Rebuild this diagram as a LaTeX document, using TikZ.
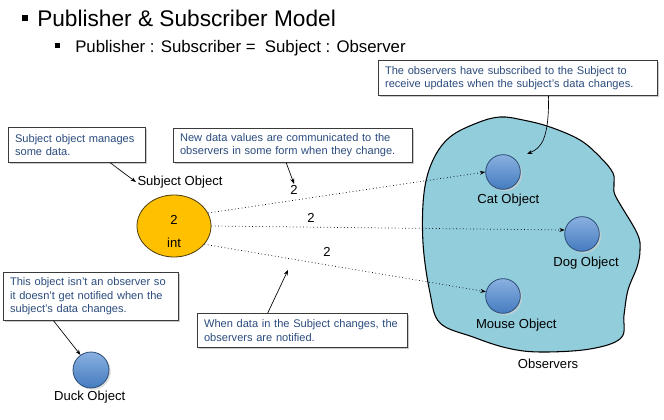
\documentclass[tikz,border=0pt]{standalone}
\usepackage{fontspec}
\setmainfont{Liberation Sans}
\usepackage{tikz}
\usetikzlibrary{positioning, arrows.meta, shapes.geometric, shadows}
\definecolor{noteText}{HTML}{2B4C7E}
\definecolor{noteB}{HTML}{3A3A3A}
\definecolor{subjFill}{HTML}{FFC000}
\definecolor{subjB}{HTML}{4A3C0A}
\definecolor{obsFill}{HTML}{4A86D0}
\definecolor{obsB}{HTML}{2C4D75}
\definecolor{blobFill}{HTML}{92CDDC}
\newcommand{\objfont}{\fontsize{9.8}{12}\selectfont}

\begin{document}
\begin{tikzpicture}[x=0.75pt, y=-0.75pt, note/.style={draw=noteB, fill=white, text=noteText, anchor=north west, align=left, inner xsep=5pt, inner ysep=0pt, line width=0.6pt, font=\fontsize{8.3}{10}\selectfont, drop shadow={shadow xshift=1pt, shadow yshift=-1pt, fill=black!35, opacity=0.6}},obj/.style={circle, draw=obsB, line width=0.6pt, minimum size=26pt, inner sep=0pt, top color=obsFill!65!white, middle color=obsFill, bottom color=obsFill!92!black, drop shadow={shadow xshift=1.3pt, shadow yshift=-1.3pt, fill=black!18, opacity=0.7}},lbl/.style={font=\objfont, inner sep=1pt},tip/.style={-{Stealth[length=4pt, width=3pt]}, line width=0.5pt},feed/.style={dotted, line width=0.55pt, -{Stealth[length=4pt, width=3pt]}}]
\useasboundingbox (0,0) rectangle (664,420);
% heading
\node[fill, inner sep=0pt, minimum size=4.5pt] (b1) at (25,18) {};
\node[anchor=base west, inner sep=0pt, font=\fontsize{17}{20}\selectfont] (title) at (37,27) {Publisher \& Subscriber Model};
\node[fill, inner sep=0pt, minimum size=3.75pt] (b2) at (57.5,45.5) {};
\node[anchor=base west, inner sep=0pt, font=\fontsize{12.6}{15}\selectfont] (sub) at (75,53) {Publisher : Subscriber = \ Subject : Observer};
% observers region
\draw[fill=blobFill, line width=0.8pt] plot[smooth cycle, tension=0.6] coordinates {(500,117) (523,120) (550,127) (580,140) (600,157) (613,173) (614,186) (616,197) (637,233) (640,250) (637,267) (628,290) (624,315) (621,338) (590,349) (540,352) (507,348) (473,337) (440,323) (430,293) (423,243) (424,193) (433,160) (450,137) (477,123)};
\node[lbl] (obs) at (548,364) {Observers};
% subject
\node[ellipse, draw=subjB, fill=subjFill, line width=0.6pt, minimum width=55.5pt, minimum height=46.5pt] (subj) at (174,226) {};
\node[lbl] (val) at (174,220) {2};
\node[lbl] (typ) at (174,243) {int};
\node[lbl] (subjlbl) at (180,182) {Subject Object};
% objects
\node[obj] (cat) at (503,172) {};
\node[obj] (dog) at (582,234) {};
\node[obj] (mouse) at (503,296) {};
\node[obj, minimum size=27pt] (duck) at (91,370) {};
\node[lbl, below=2pt of cat, xshift=4pt] (catlbl) {Cat Object};
\node[lbl, below=3pt of dog, xshift=3pt] (doglbl) {Dog Object};
\node[lbl, below=3pt of mouse, xshift=10pt] (mouselbl) {Mouse Object};
\node[lbl, below=1pt of duck, xshift=-1pt] (ducklbl) {Duck Object};
% updates
\node[lbl] (n1) at (294,190) {2};
\node[lbl] (n2) at (311,218) {2};
\node[lbl] (n3) at (327,252) {2};
\draw[feed] (subj.21) -- (cat.west);
\draw[feed] (subj.east) -- (dog.167);
\draw[feed] (subj.-31) -- (mouse.166);
% notes
\node[note, text width=92.75pt, minimum height=26.25pt] (box1) at (8,127) {Subject object manages\\some data.};
\node[note, text width=169.25pt, minimum height=25.5pt] (box2) at (173,128) {New data values are communicated to the\\observers in some form when they change.};
\node[note, text width=199.25pt, minimum height=26.25pt] (box3) at (378,60) {The observers have subscribed to the Subject to\\receive updates when the subject's data changes.};
\node[note, text width=121.25pt, minimum height=36pt] (box4) at (3,272) {This object isn't an observer so\\it doesn't get notified when the\\subject's data changes.};
\node[note, text width=147.5pt, minimum height=25.5pt] (box5) at (197,313) {When data in the Subject changes, the\\observers are notified.};
\coordinate (hit) at (288,270);
\coordinate (near) at (527,154);
\draw[tip] ([xshift=25pt]box1.south) -- (subjlbl.west);
\draw[tip] ([xshift=-5pt]box2.south) -- (n1.north);
\draw[tip] ([xshift=23pt]box3.south) .. controls (549,140) and (541,148) .. (near);
\draw[tip] ([xshift=-28pt]box4.south) -- (duck.125);
\draw[tip] ([xshift=-26pt]box5.north) -- (hit);
\end{tikzpicture}
\end{document}
